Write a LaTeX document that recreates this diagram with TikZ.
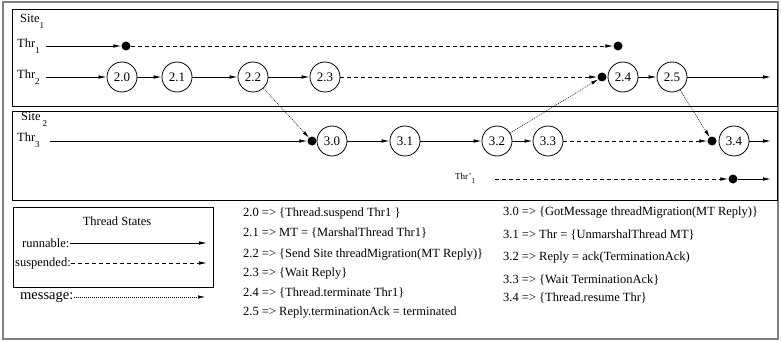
\documentclass[tikz,border=0pt]{standalone}
\usepackage{fontspec}
\setmainfont{Liberation Serif}
\usetikzlibrary{arrows.meta}
% lowered index digit used in the thread and site labels
\newcommand\lowidx[1]{\raisebox{-6pt}{\fontsize{9}{9}\selectfont #1}}
\begin{document}
\begin{tikzpicture}[x=1pt,y=-1pt,
  headtip/.style={-{Latex[length=8pt,width=3.6pt]}},
  runline/.style={line width=0.8pt, headtip},
  suspline/.style={line width=0.8pt, dash pattern=on 4pt off 3pt, headtip},
  msgline/.style={line width=0.5pt, dash pattern=on 1pt off 1pt, -{Latex[length=7pt,width=3.4pt]}},
  stnode/.style={circle, draw, line width=0.8pt, minimum size=30pt, inner sep=0pt,
                 font=\fontsize{13}{13}\selectfont},
  blob/.style={circle, fill, minimum size=9pt, inner sep=0pt},
  lbl/.style={inner sep=0pt, font=\fontsize{12.5}{14}\selectfont},
  txt/.style={anchor=west, inner sep=0pt, font=\fontsize{12.5}{14}\selectfont},
  boxframe/.style={draw, line width=0.8pt}
]
\useasboundingbox (0,0) rectangle (781,342);

% frames
\draw[gray, line width=1.4pt] (3,2) rectangle (778,339);
\draw[boxframe] (12,9) rectangle (777,106);
\draw[boxframe] (12,111) rectangle (777,200);
\draw[boxframe] (13,207) rectangle (213,287);

% ---------- Site 1 ----------
\node[lbl, anchor=west] (site1) at (20,21) {Site\lowidx{1}};
\node[lbl, anchor=west] (thr1) at (17,46) {Thr\lowidx{1}};
\node[lbl, anchor=west] (thr2) at (17,77) {Thr\lowidx{2}};

\coordinate (t1s) at (46,46);
\node[blob] (d11) at (126,46) {};
\node[blob] (d12) at (618,46) {};
\draw[runline] (t1s) -- (d11);
\draw[suspline] (d11) -- (d12);

\coordinate (t2s) at (46,77);
\node[stnode] (s20) at (122,77) {2.0};
\node[stnode] (s21) at (177,77) {2.1};
\node[stnode] (s22) at (253,77) {2.2};
\node[stnode] (s23) at (325,77) {2.3};
\node[blob]   (d24) at (602,77) {};
\node[stnode] (s24) at (623,77) {2.4};
\node[stnode] (s25) at (672,77) {2.5};
\coordinate (t2e) at (771,77);
\draw[runline] (t2s) -- (s20);
\draw[runline] (s20) -- (s21);
\draw[runline] (s21) -- (s22);
\draw[runline] (s22) -- (s23);
\draw[suspline] (s23) -- (d24);
\draw[runline] (s24) -- (s25);
\draw[runline] (s25) -- (t2e);

% ---------- Site 2 ----------
\node[lbl, anchor=west] (site2) at (21,119) {Site\,\lowidx{2}};
\node[lbl, anchor=west] (thr3) at (17,140) {Thr\lowidx{3}};

\coordinate (t3s) at (50,141);
\node[blob]   (d30) at (312,141) {};
\node[stnode] (s30) at (332,141) {3.0};
\node[stnode] (s31) at (405,141) {3.1};
\node[stnode] (s32) at (497,141) {3.2};
\node[stnode] (s33) at (548,141) {3.3};
\node[blob]   (d34) at (712,141) {};
\node[stnode] (s34) at (734,141) {3.4};
\coordinate (t3e) at (771,141);
\draw[runline] (t3s) -- (d30);
\draw[runline] (s30) -- (s31);
\draw[runline] (s31) -- (s32);
\draw[runline] (s32) -- (s33);
\draw[suspline] (s33) -- (d34);
\draw[runline] (s34) -- (t3e);

\node[inner sep=0pt, anchor=west, font=\fontsize{9}{9}\selectfont] (thr1b) at (455,178)
  {Thr'\raisebox{-4pt}{\fontsize{7.5}{7.5}\selectfont 1}};
\coordinate (t4s) at (495,179);
\node[blob] (d41) at (733,179) {};
\coordinate (t4e) at (771,179);
\draw[suspline] (t4s) -- (d41);
\draw[runline] (d41) -- (t4e);

% ---------- messages between sites ----------
\draw[msgline] (s22) -- (d30);
\draw[msgline] (s32) -- (d24);
\draw[msgline] (s25) -- (d34);

% ---------- legend ----------
\node[lbl] (legtitle) at (117,221) {Thread States};
\node[txt] (lrun) at (22,243) {runnable:};
\coordinate (lrune) at (207,243);
\draw[runline] (lrun.east) -- (lrune);
\node[txt] (lsus) at (15,263) {suspended:};
\coordinate (lsuse) at (207,263);
\draw[suspline] (lsus.east) -- (lsuse);
\node[anchor=west, inner sep=0pt, font=\fontsize{14.5}{16}\selectfont] (lmsg) at (20,297) {message:};
\coordinate (lmsge) at (205,297);
\draw[msgline] (lmsg.east) -- (lmsge);

% ---------- state descriptions ----------
\node[txt] (e20) at (243,213) {2.0 => \{Thread.suspend Thr1 \}};
\node[txt] (e21) at (243,233) {2.1 => MT = \{MarshalThread Thr1\}};
\node[txt] (e22) at (243,255) {2.2 => \{Send Site threadMigration(MT Reply)\}};
\node[txt] (e23) at (243,274) {2.3 => \{Wait Reply\}};
\node[txt] (e24) at (243,293) {2.4 => \{Thread.terminate Thr1\}};
\node[txt] (e25) at (243,313) {2.5 => Reply.terminationAck = terminated};

\node[txt] (e30) at (503,213) {3.0 => \{GotMessage threadMigration(MT Reply)\}};
\node[txt] (e31) at (503,235) {3.1 => Thr = \{UnmarshalThread MT\}};
\node[txt] (e32) at (503,258) {3.2 => Reply = ack(TerminationAck)};
\node[txt] (e33) at (503,280) {3.3 => \{Wait TerminationAck\}};
\node[txt] (e34) at (503,298) {3.4 => \{Thread.resume Thr\}};
\end{tikzpicture}
\end{document}
